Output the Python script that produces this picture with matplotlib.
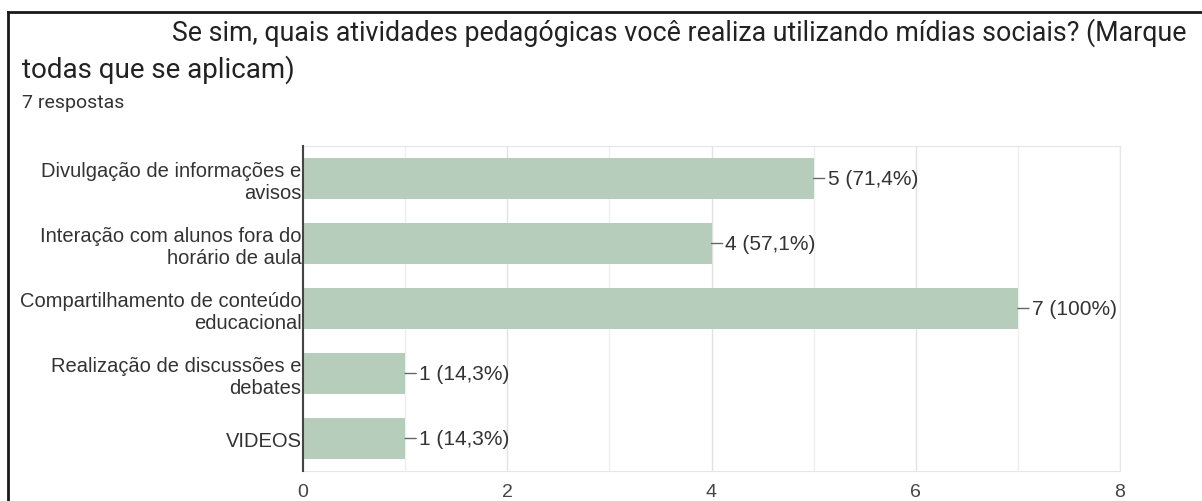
import matplotlib.pyplot as plt
from matplotlib.lines import Line2D

# Survey data
categories = ['Divulgação de informações e\navisos',
              'Interação com alunos fora do\nhorário de aula',
              'Compartilhamento de conteúdo\neducacional',
              'Realização de discussões e\ndebates',
              'VIDEOS']
counts = [5, 4, 7, 1, 1]
labels = ['5 (71,4%)', '4 (57,1%)', '7 (100%)', '1 (14,3%)', '1 (14,3%)']
xticks = [0, 2, 4, 6, 8]

W, H = 1202, 502
fig = plt.figure(figsize=(W / 100, H / 100), dpi=100)
fig.patch.set_facecolor('white')

# Header text
fig.text(172 / W, 1 - 33 / H, 'Se sim, quais atividades pedagógicas você realiza utilizando mídias sociais? (Marque',
         family='Roboto', fontsize=19.3, color='#222222', va='center', ha='left')
fig.text(22 / W, 1 - 70 / H, 'todas que se aplicam)', family='Roboto', fontsize=20,
         color='#222222', va='center', ha='left')
fig.text(22 / W, 1 - 103 / H, '7 respostas', family='Roboto', fontsize=14,
         color='#333333', va='center', ha='left')

# Frame around the card
fig.add_artist(Line2D([8 / W, 8 / W], [0, 1 - 13 / H], color='#1a1a1a', lw=2))
fig.add_artist(Line2D([8 / W, 1], [1 - 13 / H, 1 - 13 / H], color='#1a1a1a', lw=2))

ax = fig.add_axes([303 / W, 30 / H, (1120 - 303) / W, (472 - 147) / H])
y = list(range(len(categories)))
ax.barh(y, counts, height=0.62, color='#b7cdbb', zorder=2)
ax.set_xlim(0, 8)
ax.set_ylim(len(categories) - 0.5, -0.5)

ax.set_yticks(y)
ax.set_yticklabels(categories, family='Liberation Sans', fontsize=14.5,
                   color='#333333', linespacing=1.2)
ax.set_xticks(xticks)
ax.set_xticklabels([str(t) for t in xticks], family='Liberation Sans',
                   fontsize=14, color='#444444')
ax.set_xticks(range(1, 8, 2), minor=True)
ax.tick_params(axis='both', which='both', length=0)
ax.tick_params(axis='y', pad=1)
ax.tick_params(axis='x', pad=9)

ax.grid(axis='x', which='major', color='#e2e2e2', lw=1, zorder=0)
ax.grid(axis='x', which='minor', color='#efefef', lw=1, zorder=0)
for s in ['top', 'bottom', 'right']:
    ax.spines[s].set_color('#e6e6e6')
ax.spines['left'].set_color('#444444')
ax.spines['left'].set_linewidth(1.5)
ax.spines['left'].set_zorder(3)

for yi, v, lab in zip(y, counts, labels):
    ax.annotate(lab, xy=(v, yi), xytext=(10, 0), textcoords='offset points',
                ha='left', va='center', family='Liberation Sans', fontsize=15,
                color='#333333',
                arrowprops=dict(arrowstyle='-', color='#666666', lw=1,
                                shrinkA=0, shrinkB=0))

fig.savefig('out.png', dpi=100, facecolor='white')
